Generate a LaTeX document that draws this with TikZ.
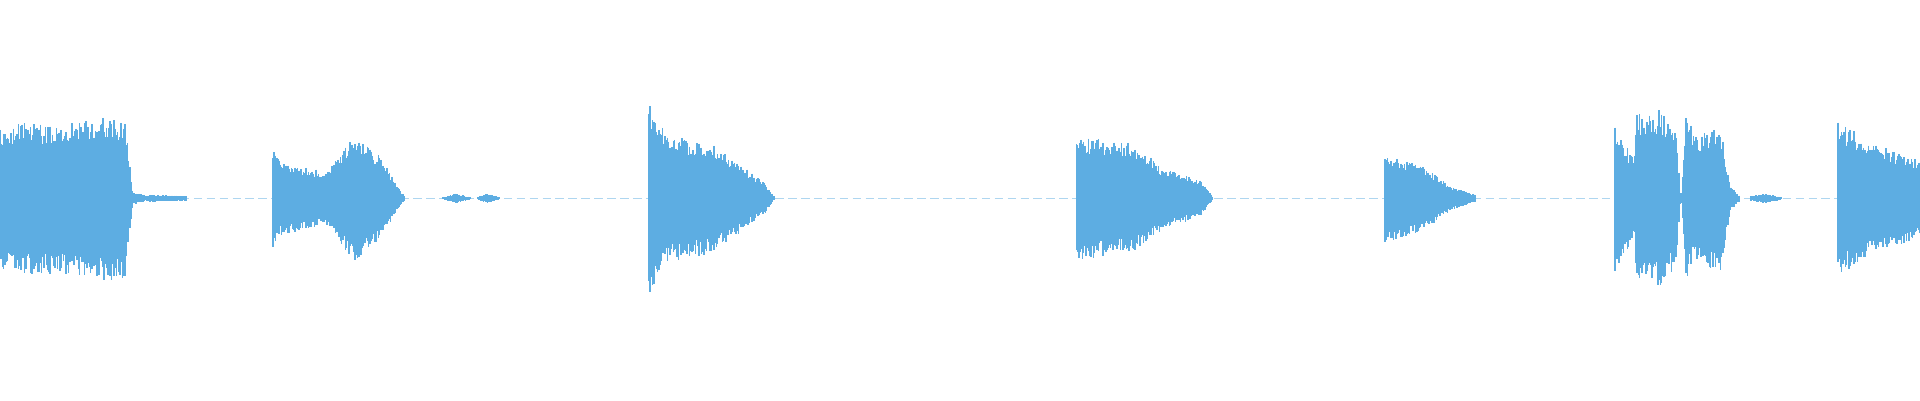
\documentclass[tikz,border=0pt]{standalone}
\definecolor{wave}{HTML}{5DADE2}
\newcommand\wseg[1]{\foreach \xa/\aa/\xb/\ab in {#1}{\foreach \x in {\xa,...,\xb}{\pgfmathsetmacro\a{(\aa+(\ab-\aa)*(\x-\xa)/(\xb-\xa))*(0.72+0.28*rnd)}\pgfmathsetmacro\b{(\aa+(\ab-\aa)*(\x-\xa)/(\xb-\xa))*(0.72+0.28*rnd)}\draw[wavel] (\x,162-\a) -- (\x,162+\b);}}}
\begin{document}
\begin{tikzpicture}[x=0.01cm,y=-0.01cm,wavel/.style={wave,line width=0.013cm}]
\pgfmathsetseed{7}
\useasboundingbox (0,0) rectangle (1568,327);
\draw[wave!50,line width=0.2pt,dash pattern=on 2pt off 1pt] (0,162) -- (1568,162);
\wseg{0/58/20/62,20/62/50/62,50/62/90/68,90/68/102/64,102/64/108/8,108/5/118/3,118/2/122/2,122/3/152/2}
\wseg{223/40/230/30,230/30/265/22,265/22/290/52,290/52/310/35,310/35/330/2,362/1/372/4,372/4/384/1,390/1/398/4,398/4/408/1}
\wseg{530/82/534/70,534/70/545/52,545/52/580/45,580/45/605/28,605/28/625/12,625/12/632/2}
\wseg{879/54/885/50,885/50/925/45,925/45/950/25,950/25/980/15,980/15/990/2}
\wseg{1131/36/1140/34,1140/34/1160/28,1160/28/1185/10,1185/10/1205/3}
\wseg{1319/60/1324/50,1324/50/1331/38,1331/38/1336/35,1336/70/1355/72,1355/72/1369/55,1369/55/1372/5,1373/5/1377/66,1377/66/1381/60,1381/50/1405/60,1405/60/1413/10,1413/10/1420/3,1430/2/1442/4,1442/4/1455/1}
\wseg{1501/62/1510/58,1510/58/1530/45,1530/45/1568/32}
\end{tikzpicture}
\end{document}
